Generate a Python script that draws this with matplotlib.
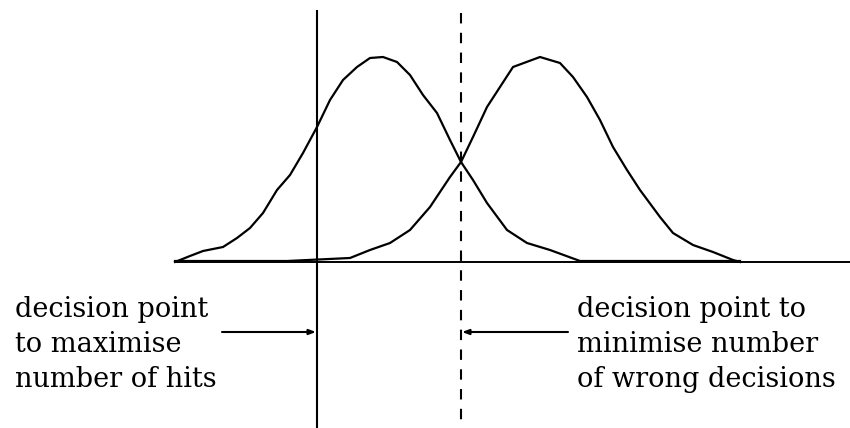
import matplotlib
matplotlib.use("Agg")
import matplotlib.pyplot as plt

# Two overlapping response distributions (x = decision axis, h = height above baseline)
noise_x = [175, 180, 190, 203, 223, 237, 250, 263, 277, 290, 303, 317, 330, 343, 357,
           370, 383, 397, 410, 423, 437, 450, 461, 473, 487, 507, 527, 550, 580, 740]
noise_h = [0, 2, 6, 11, 15, 24, 34, 49, 72, 87, 109, 135, 162, 182, 195,
           204, 205, 200, 187, 167, 149, 122, 100, 82, 59, 32, 19, 12, 1, 1]

signal_x = [175, 287, 350, 370, 390, 410, 430, 450, 461, 473, 487, 500, 513, 540, 560,
            573, 587, 600, 613, 627, 640, 660, 673, 693, 713, 733, 740]
signal_h = [1, 1, 4, 12, 19, 32, 55, 85, 100, 125, 155, 175, 195, 205, 199,
            185, 165, 142, 115, 92, 72, 45, 29, 17, 10, 2, 0]

# Decision criteria
hits_criterion = 317
errors_criterion = 461

left_label = ["decision point", "to maximise", "number of hits"]
right_label = ["decision point to", "minimise number", "of wrong decisions"]

fig = plt.figure(figsize=(8.5, 4.28), dpi=100)
ax = fig.add_axes([0, 0, 1, 1])
ax.set_xlim(0, 850)
ax.set_ylim(-166, 262)
ax.axis("off")

# Baseline
ax.plot([175, 850], [0, 0], color="black", lw=1.4, solid_capstyle="butt")

# Distributions
ax.plot(noise_x, noise_h, color="black", lw=1.6)
ax.plot(signal_x, signal_h, color="black", lw=1.6)

# Criterion lines
ax.plot([hits_criterion, hits_criterion], [251, -166], color="black", lw=1.5)
ax.plot([errors_criterion, errors_criterion], [249, -166], color="black", lw=1.5,
        dashes=(5, 4.5))

# Labels
font = dict(family="DejaVu Serif", fontsize=19.5, color="black", va="baseline")
for i, line in enumerate(left_label):
    ax.text(15, -55 - 35 * i, line, ha="left", **font)
for i, line in enumerate(right_label):
    ax.text(577, -55 - 35 * i, line, ha="left", **font)

# Pointers from labels to criteria
arrow = dict(arrowstyle="-|>,head_length=0.4,head_width=0.15", color="black",
             lw=1.5, shrinkA=0, shrinkB=0)
ax.annotate("", xy=(hits_criterion - 1, -70), xytext=(222, -70), arrowprops=arrow)
ax.annotate("", xy=(errors_criterion + 1, -70), xytext=(568, -70), arrowprops=arrow)

fig.savefig("out.png", dpi=100)
